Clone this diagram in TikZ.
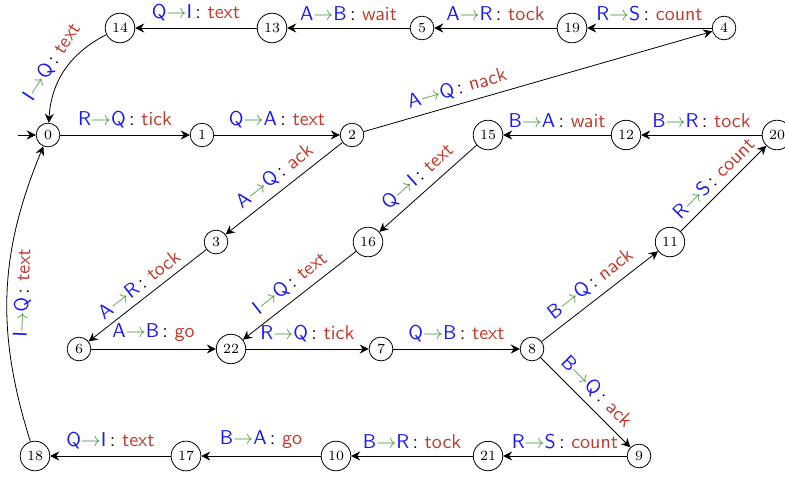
\documentclass[tikz,border=0pt]{standalone}
\usetikzlibrary{arrows.meta}
\definecolor{lblue}{RGB}{25,25,250}
\definecolor{lgreen}{RGB}{80,155,70}
\definecolor{lred}{RGB}{192,57,43}
\newcommand\trlab[3]{\sffamily{\color{lblue}#1}{\color{lgreen}$\rightarrow$}{\color{lblue}#2}\,:\ {\color{lred}#3}}
\tikzset{
  st/.style={circle,draw,inner sep=2pt,font=\scriptsize},
  tr/.style={-{Stealth[length=4.5pt,width=4.5pt,inset=1.5pt]}},
  lb/.style={font=\normalsize}
}
\begin{document}
\begin{tikzpicture}[x=0.5pt,y=-0.5pt]
\useasboundingbox (0,0) rectangle (785,476);
% row 1
\node[st] (n14) at (120,28) {14};
\node[st] (n13) at (272,28) {13};
\node[st] (n5) at (422,28) {5};
\node[st] (n19) at (572,28) {19};
\node[st] (n4) at (724,28) {4};
% row 2
\node[st] (n0) at (48,135) {0};
\node[st] (n1) at (202,135) {1};
\node[st] (n2) at (352,135) {2};
\node[st] (n15) at (488,135) {15};
\node[st] (n12) at (626,135) {12};
\node[st] (n20) at (777,135) {20};
% row 3
\node[st] (n3) at (216,242) {3};
\node[st] (n16) at (368,242) {16};
\node[st] (n11) at (670,242) {11};
% row 4
\node[st] (n6) at (79,349) {6};
\node[st] (n22) at (231,349) {22};
\node[st] (n7) at (381,349) {7};
\node[st] (n8) at (532,349) {8};
% row 5
\node[st] (n18) at (35,456) {18};
\node[st] (n17) at (186,456) {17};
\node[st] (n10) at (336,456) {10};
\node[st] (n21) at (488,456) {21};
\node[st] (n9) at (639,456) {9};
\coordinate (start) at (18,135);

\draw[tr] (start) -- (n0);
\draw[tr] (n0) -- node[above,lb]{\trlab{R}{Q}{tick}} (n1);
\draw[tr] (n1) -- node[above,lb]{\trlab{Q}{A}{text}} (n2);
\draw[tr] (n2) -- node[pos=0.28,above,sloped,lb]{\trlab{A}{Q}{nack}} (n4);
\draw[tr] (n4) -- node[above,lb]{\trlab{R}{S}{count}} (n19);
\draw[tr] (n19) -- node[above,lb]{\trlab{A}{R}{tock}} (n5);
\draw[tr] (n5) -- node[above,lb]{\trlab{A}{B}{wait}} (n13);
\draw[tr] (n13) -- node[above,lb]{\trlab{Q}{I}{text}} (n14);
\draw[tr] (n14) to[bend right=30] node[above,sloped,lb]{\trlab{I}{Q}{text}} (n0);
\draw[tr] (n2) -- node[above,sloped,lb]{\trlab{A}{Q}{ack}} (n3);
\draw[tr] (n3) -- node[above,sloped,lb]{\trlab{A}{R}{tock}} (n6);
\draw[tr] (n6) -- node[above,lb]{\trlab{A}{B}{go}} (n22);
\draw[tr] (n22) -- node[above,lb]{\trlab{R}{Q}{tick}} (n7);
\draw[tr] (n7) -- node[above,lb]{\trlab{Q}{B}{text}} (n8);
\draw[tr] (n8) -- node[above,sloped,lb]{\trlab{B}{Q}{nack}} (n11);
\draw[tr] (n11) -- node[above,sloped,lb]{\trlab{R}{S}{count}} (n20);
\draw[tr] (n20) -- node[above,lb]{\trlab{B}{R}{tock}} (n12);
\draw[tr] (n12) -- node[above,lb]{\trlab{B}{A}{wait}} (n15);
\draw[tr] (n15) -- node[above,sloped,lb]{\trlab{Q}{I}{text}} (n16);
\draw[tr] (n16) -- node[above,sloped,lb]{\trlab{I}{Q}{text}} (n22);
\draw[tr] (n8) -- node[above,sloped,lb]{\trlab{B}{Q}{ack}} (n9);
\draw[tr] (n9) -- node[above,lb]{\trlab{R}{S}{count}} (n21);
\draw[tr] (n21) -- node[above,lb]{\trlab{B}{R}{tock}} (n10);
\draw[tr] (n10) -- node[above,lb]{\trlab{B}{A}{go}} (n17);
\draw[tr] (n17) -- node[above,lb]{\trlab{Q}{I}{text}} (n18);
\draw[tr] (n18) to[bend left=20] node[below,sloped,lb]{\trlab{I}{Q}{text}} (n0);
\end{tikzpicture}
\end{document}
